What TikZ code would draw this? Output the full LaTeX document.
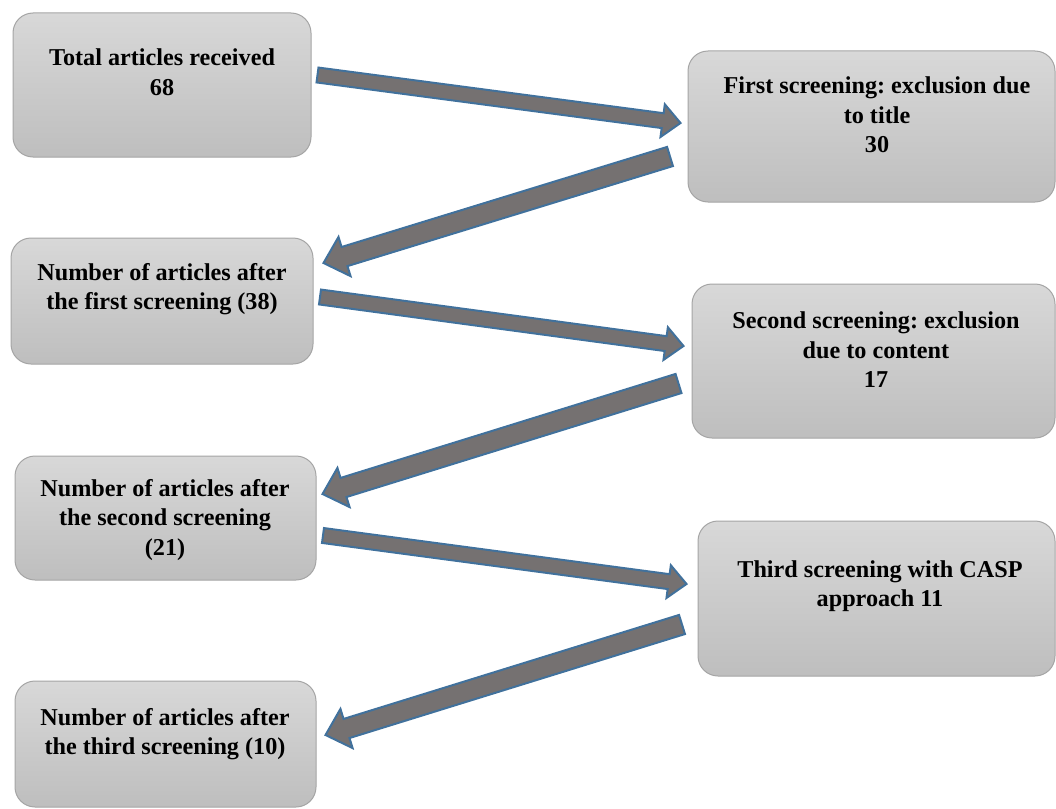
\documentclass[tikz,border=0pt]{standalone}
\usepackage{fontspec}
\setmainfont{Liberation Serif}
\usetikzlibrary{calc}
\definecolor{arrfill}{HTML}{757171}
\definecolor{arrline}{HTML}{41719C}
\definecolor{boxline}{HTML}{A5A5A5}
\definecolor{boxtop}{HTML}{D8D8D8}
\definecolor{boxbot}{HTML}{BEBEBE}
\tikzset{
  box/.style={draw=boxline, line width=1pt, rounded corners=20pt,
    top color=boxtop, bottom color=boxbot, inner sep=0pt},
  lbl/.style={align=center, inner sep=0pt,
    font=\fontsize{24.2}{29.5}\selectfont\bfseries\frenchspacing},
  arr/.style={draw=arrline, fill=arrfill, line width=2pt, line join=miter}
}
\newcommand\blockarr[5]{%
  \coordinate (nk) at ($(#2)!#5!(#1)$);
  \draw[arr] ($(#1)!#3!90:(#2)$) -- ($(nk)!#3!-90:(#1)$) -- ($(nk)!#4!-90:(#1)$)
    -- (#2) -- ($(nk)!#4!90:(#1)$) -- ($(nk)!#3!90:(#1)$) -- ($(#1)!#3!-90:(#2)$) -- cycle;
}
\begin{document}
\frenchspacing
\begin{tikzpicture}[x=1pt,y=-1pt]
\useasboundingbox (0,0) rectangle (1056,808);
% boxes
\node[box, minimum width=298pt, minimum height=144pt] (b1) at (162,85) {};
\node[box, minimum width=367pt, minimum height=151pt] (b2) at (871.5,126.5) {};
\node[box, minimum width=302pt, minimum height=126pt] (b3) at (162,301) {};
\node[box, minimum width=363pt, minimum height=154pt] (b4) at (873.5,361) {};
\node[box, minimum width=301pt, minimum height=124pt] (b5) at (165.5,518) {};
\node[box, minimum width=357pt, minimum height=155pt] (b6) at (876.5,598.5) {};
\node[box, minimum width=301pt, minimum height=126pt] (b7) at (165.5,744) {};
% labels
\node[lbl] (t1) at (162,72) {Total articles received\\68};
\node[lbl] (t2) at (877,115) {First screening: exclusion due\\to title\\30};
\node[lbl] (t3) at (162,289) {Number of articles after\\the first screening (38)};
\node[lbl] (t4) at (876,350) {Second screening: exclusion\\due to content\\17};
\node[lbl] (t5) at (165,520) {Number of articles after\\the second screening\\(21)};
\node[lbl] (t6) at (880,586) {Third screening with CASP\\approach 11};
\node[lbl] (t7) at (165,734) {Number of articles after\\the third screening (10)};
% arrow ends
\coordinate (a1s) at ($(b1.east)+(6,-10)$);
\coordinate (a1e) at ($(b2.west)+(-7,-3.5)$);
\coordinate (a2s) at ($(b2.west)+(-17.5,30)$);
\coordinate (a2e) at ($(b3.east)+(10,-38)$);
\coordinate (a3s) at ($(b3.east)+(6.5,-4)$);
\coordinate (a3e) at ($(b4.west)+(-8,-15)$);
\coordinate (a4s) at ($(b4.west)+(-13,22.5)$);
\coordinate (a4e) at ($(b5.east)+(6,-24)$);
\coordinate (a5s) at ($(b5.east)+(6.5,17.5)$);
\coordinate (a5e) at ($(b6.west)+(-11,-14.5)$);
\coordinate (a6s) at ($(b6.west)+(-15.5,26)$);
\coordinate (a6e) at ($(b7.east)+(9,-9)$);
% arrows
\blockarr{a1s}{a1e}{7.5pt}{16.5pt}{18pt}
\blockarr{a2s}{a2e}{10pt}{20.5pt}{22pt}
\blockarr{a3s}{a3e}{7.5pt}{16.5pt}{18pt}
\blockarr{a4s}{a4e}{10pt}{20.5pt}{22pt}
\blockarr{a5s}{a5e}{7.5pt}{16.5pt}{18pt}
\blockarr{a6s}{a6e}{10pt}{20.5pt}{22pt}
\end{tikzpicture}
\end{document}
